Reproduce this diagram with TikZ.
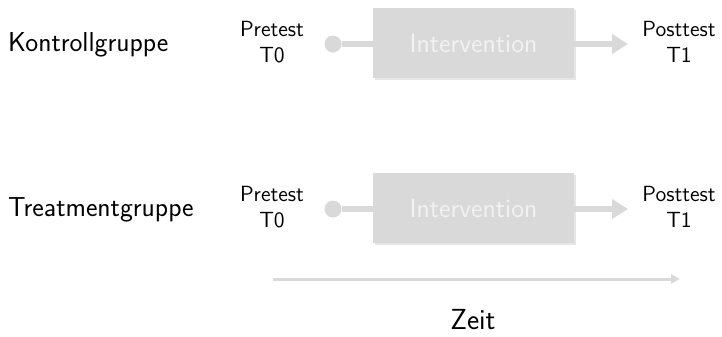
\documentclass[tikz,border=0pt]{standalone}
\usetikzlibrary{arrows.meta,shadows}

\definecolor{lightgrey}{HTML}{D9D9D9}
\definecolor{boxtext}{HTML}{F2F2F2}

\tikzset{
    grouplabel/.style={anchor=west, font=\sffamily\fontsize{15.6}{19}\selectfont},
    testlabel/.style={align=center, font=\sffamily\fontsize{12.5}{14.5}\selectfont},
    startdot/.style={circle, fill=lightgrey, inner sep=0pt, minimum size=0.34cm},
    interventionbox/.style={fill=lightgrey, minimum width=4.02cm, minimum height=1.4cm,
        text=boxtext, font=\sffamily\fontsize{15}{17}\selectfont,
        drop shadow={opacity=0.2, shadow xshift=0.03cm, shadow yshift=-0.03cm}},
    flow/.style={lightgrey, line width=0.12cm},
}

\begin{document}
\begin{tikzpicture}

        \useasboundingbox (0, 0) rectangle (14.44, -6.72);

        % Kontrollgruppe
        \begin{scope}
            \node[grouplabel] (kgroup) at (0.04, -0.9) {Kontrollgruppe};
            \node[testlabel] (kpre) at (5.44, -0.84) {Pretest\\T0};
            \node[startdot] (kdot) at (6.66, -0.88) {};
            \node[interventionbox] (kbox) at (9.47, -0.86) {Intervention};
            \coordinate (kend) at (12.56, -0.88);
            \node[testlabel] (kpost) at (13.58, -0.84) {Posttest\\T1};

            \draw[flow] (kdot) -- (kdot -| kbox.west);
            \draw[flow, -{Triangle[width=0.38cm, length=0.32cm]}] (kbox.east |- kend) -- (kend);
        \end{scope}

        % Treatmentgruppe
        \begin{scope}[shift={(0,-3.3)}]
            \node[grouplabel] (tgroup) at (0.04, -0.9) {Treatmentgruppe};
            \node[testlabel] (tpre) at (5.44, -0.84) {Pretest\\T0};
            \node[startdot] (tdot) at (6.66, -0.88) {};
            \node[interventionbox] (tbox) at (9.47, -0.86) {Intervention};
            \coordinate (tend) at (12.56, -0.88);
            \node[testlabel] (tpost) at (13.58, -0.84) {Posttest\\T1};

            \draw[flow] (tdot) -- (tdot -| tbox.west);
            \draw[flow, -{Triangle[width=0.38cm, length=0.32cm]}] (tbox.east |- tend) -- (tend);
        \end{scope}

        % Zeitachse
        \coordinate (zstart) at (5.46, -5.58);
        \coordinate (zend) at (13.6, -5.58);
        \draw[lightgrey, line width=0.06cm, -{Triangle[width=0.18cm, length=0.18cm]}] (zstart) -- (zend);
        \node[font=\sffamily\fontsize{16.5}{19}\selectfont] (zeit) at (9.46, -6.4) {Zeit};

    \end{tikzpicture}
\end{document}
